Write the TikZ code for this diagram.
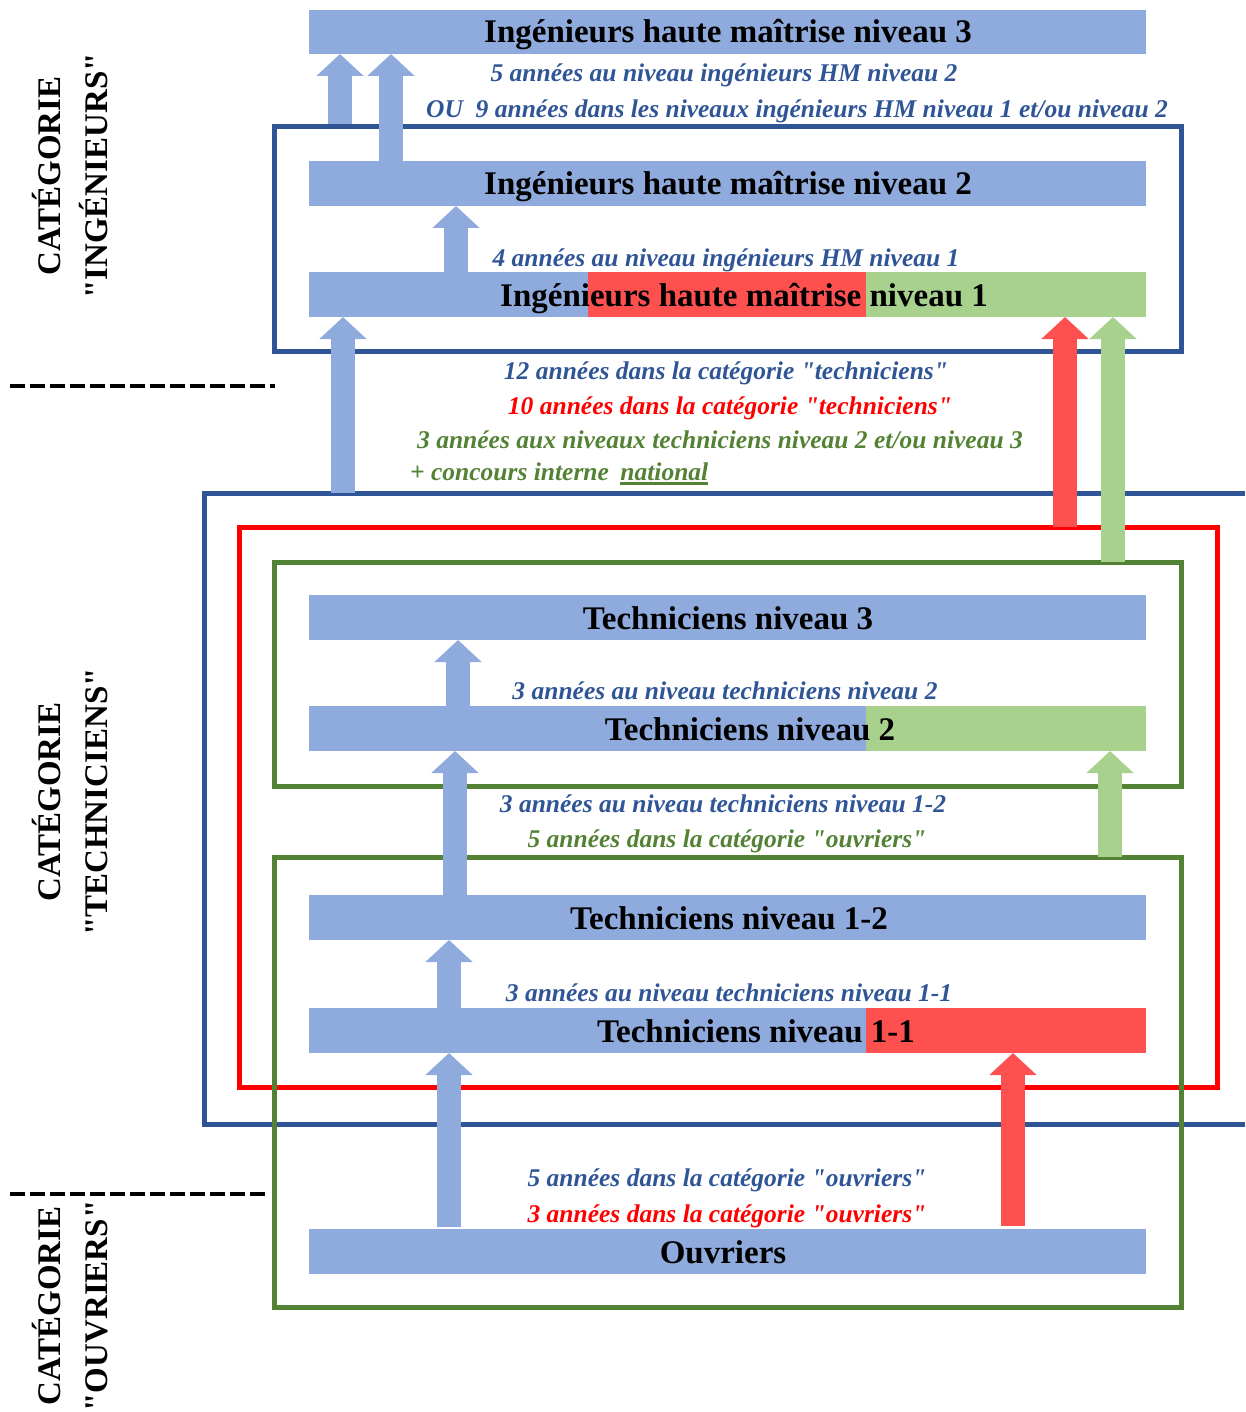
\documentclass[tikz,border=0pt]{standalone}
\usepackage{fontspec}
\setmainfont{Liberation Serif}[Ligatures=TeXOff]
\usetikzlibrary{arrows.meta}
\definecolor{barblue}{HTML}{8FAADC}
\definecolor{barred}{HTML}{FF5050}
\definecolor{bargreen}{HTML}{A9D18E}
\definecolor{frblue}{HTML}{2F5597}
\definecolor{frred}{HTML}{FF0000}
\definecolor{frgreen}{HTML}{548235}
\newcommand\thickul[1]{{\setbox0\hbox{#1}\rlap{\rule[-4pt]{\wd0}{2.2pt}}\box0}}
\begin{document}
\begin{tikzpicture}[x=1pt,y=-1pt,
  bar/.style={fill=barblue, minimum width=837pt, minimum height=45pt, inner sep=0pt, outer sep=0pt, draw=none},
  title/.style={font=\fontsize{33}{36}\selectfont\bfseries, text height=22pt, text depth=0pt, inner sep=0pt},
  lab/.style={font=\fontsize{25.5}{28}\selectfont\bfseries\itshape, text height=17pt, text depth=0pt, inner sep=0pt},
  side/.style={font=\fontsize{33}{47}\selectfont\bfseries, rotate=90, align=center, inner sep=0pt},
  frame/.style={line width=5pt, inner sep=0pt, outer sep=0pt, fill=none},
  barrow/.style={line width=24pt, -{Triangle[width=46pt,length=22pt]}},
  divider/.style={line width=4pt, dash pattern=on 15pt off 5pt}
]
\useasboundingbox (0,0) rectangle (1245,1412);

% ---------- frames ----------
\node[frame, draw=frblue, minimum width=907pt, minimum height=224pt] (ingfr) at (727.5,239) {};
\coordinate (tbTR) at (1245,493);
\coordinate (tbTL) at (204,493);
\coordinate (tbBL) at (204,1124);
\coordinate (tbBR) at (1245,1124);
\draw[line width=5pt, frblue] (tbTR) -- (tbTL) -- (tbBL) -- (tbBR);
\node[frame, draw=frred, minimum width=978pt, minimum height=560pt] (redfr) at (728,807) {};
\node[frame, draw=frgreen, minimum width=907pt, minimum height=224pt] (grfrA) at (727.5,674) {};
\node[frame, draw=frgreen, minimum width=907pt, minimum height=450pt] (grfrB) at (727.5,1082) {};

% ---------- dividers ----------
\coordinate (d1a) at (10,386); \coordinate (d1b) at (275,386);
\coordinate (d2a) at (10,1194); \coordinate (d2b) at (268,1194);
\draw[divider] (d1a) -- (d1b);
\draw[divider] (d2a) -- (d2b);

% ---------- bars ----------
\node[bar, minimum height=44pt] (ing3) at (727.5,32) {};
\node[bar] (ing2) at (727.5,183.5) {};
\node[bar] (ing1) at (727.5,294.5) {};
\fill[barred] (588,272) rectangle (866,317);
\fill[bargreen] (866,272) rectangle (1146,317);
\node[bar] (tech3) at (727.5,617.5) {};
\node[bar] (tech2) at (727.5,728.5) {};
\fill[bargreen] (866,706) rectangle (1146,751);
\node[bar] (tech12) at (727.5,917.5) {};
\node[bar] (tech11) at (727.5,1030.5) {};
\fill[barred] (866,1008) rectangle (1146,1053);
\node[bar] (ouv) at (727.5,1251.5) {};

% ---------- bar titles ----------
\node[title] (t3) at (728,31.5) {Ingénieurs haute maîtrise niveau 3};
\node[title] (t2) at (728,183.5) {Ingénieurs haute maîtrise niveau 2};
\node[title] (t1) at (744,295) {Ingénieurs haute maîtrise niveau 1};
\node[title] (tt3) at (728,618) {Techniciens niveau 3};
\node[title] (tt2) at (750,729) {Techniciens niveau 2};
\node[title] (tt12) at (729,918) {Techniciens niveau 1-2};
\node[title] (tt11) at (756,1031) {Techniciens niveau 1-1};
\node[title] (tou) at (723,1252) {Ouvriers};

% ---------- arrows ----------
\coordinate (xA) at (340,0);
\coordinate (xB) at (391,0);
\coordinate (xC) at (456,0);
\coordinate (xD) at (343,0);
\coordinate (xE) at (1065,0);
\coordinate (xF) at (1113,0);
\coordinate (xG) at (458,0);
\coordinate (xH) at (455,0);
\coordinate (xI) at (1110,0);
\coordinate (xJ) at (449,0);
\coordinate (xK) at (1013,0);
\draw[barrow, barblue, shorten <=3pt] (ingfr.north -| xA) -- (ing3.south -| xA);
\draw[barrow, barblue] (ing2.north -| xB) -- (ing3.south -| xB);
\draw[barrow, barblue] (ing1.north -| xC) -- (ing2.south -| xC);
\draw[barrow, barblue] (tbTL -| xD) -- (ing1.south -| xD);
\draw[barrow, barred] (redfr.north -| xE) -- (ing1.south -| xE);
\draw[barrow, bargreen] (grfrA.north -| xF) -- (ing1.south -| xF);
\draw[barrow, barblue] (tech2.north -| xG) -- (tech3.south -| xG);
\draw[barrow, barblue] (tech12.north -| xH) -- (tech2.south -| xH);
\draw[barrow, bargreen] (grfrB.north -| xI) -- (tech2.south -| xI);
\draw[barrow, barblue] (tech11.north -| xJ) -- (tech12.south -| xJ);
\draw[barrow, barblue, shorten <=2pt] (ouv.north -| xJ) -- (tech11.south -| xJ);
\draw[barrow, barred, shorten <=3pt] (ouv.north -| xK) -- (tech11.south -| xK);

% ---------- labels ----------
\node[lab, text=frblue] (l1) at (724,73) {5 années au niveau ingénieurs HM niveau 2};
\node[lab, text=frblue] (l2) at (797,109) {OU\hspace{0.5em}9 années dans les niveaux ingénieurs HM niveau 1 et/ou niveau 2};
\node[lab, text=frblue] (l3) at (726,258) {4 années au niveau ingénieurs HM niveau 1};
\node[lab, text=frblue] (l4) at (726,371) {12 années dans la catégorie "techniciens"};
\node[lab, text=frred] (l5) at (730,406) {10 années dans la catégorie "techniciens"};
\node[lab, text=frgreen] (l6) at (720,440) {3 années aux niveaux techniciens niveau 2 et/ou niveau 3};
\node[lab, text=frgreen, anchor=west] (l7) at (410,472) {+ concours interne\hspace{0.45em}\thickul{national}};
\node[lab, text=frblue] (l8) at (725,691) {3 années au niveau techniciens niveau 2};
\node[lab, text=frblue] (l9) at (723,804) {3 années au niveau techniciens niveau 1-2};
\node[lab, text=frgreen] (l10) at (727,839) {5 années dans la catégorie "ouvriers"};
\node[lab, text=frblue] (l11) at (729,993) {3 années au niveau techniciens niveau 1-1};
\node[lab, text=frblue] (l12) at (727,1178) {5 années dans la catégorie "ouvriers"};
\node[lab, text=frred] (l13) at (727,1214) {3 années dans la catégorie "ouvriers"};

% ---------- side categories ----------
\node[side] (cI) at (70.5,176) {CATÉGORIE\\"INGÉNIEURS"};
\node[side] (cT) at (70.5,802) {CATÉGORIE\\"TECHNICIENS"};
\node[side] (cO) at (70.5,1306) {CATÉGORIE\\"OUVRIERS"};
\end{tikzpicture}
\end{document}
